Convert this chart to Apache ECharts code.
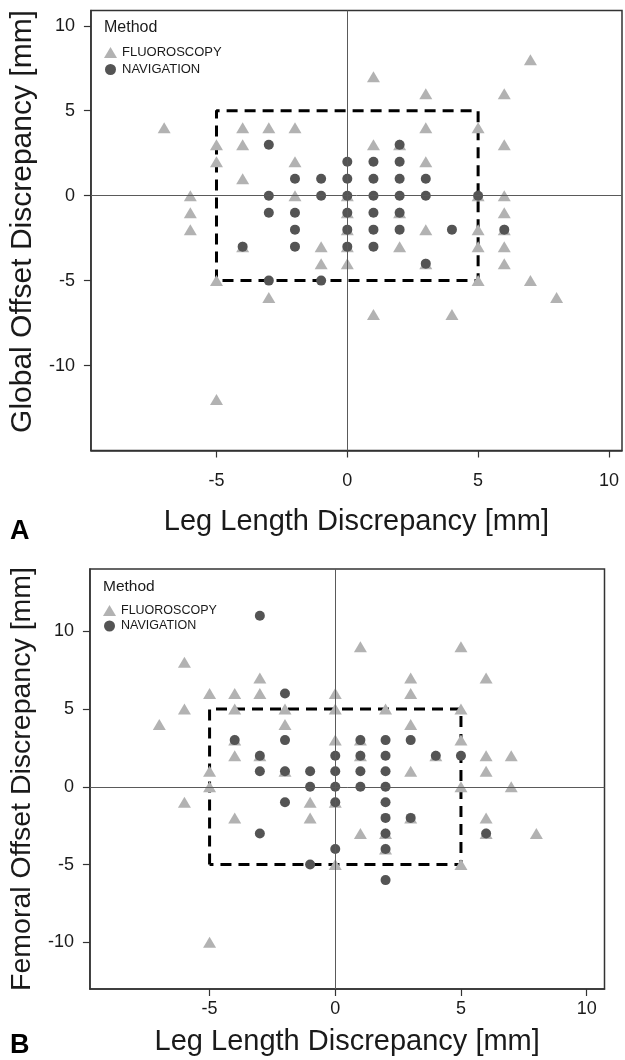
<!DOCTYPE html>
<html>
<head>
<meta charset="utf-8">
<script src="https://cdn.jsdelivr.net/npm/echarts@6/dist/echarts.min.js"></script>
<style>
html,body{margin:0;padding:0;background:#fff;}
#main{width:625px;height:1060px;}
</style>
</head>
<body>
<div id="main"></div>
<script>
// ---- data ----
const seriesNames = ['FLUOROSCOPY', 'NAVIGATION'];
const xTicks = [-5, 0, 5, 10];
const yTicksA = [-10, -5, 0, 5, 10];
const yTicksB = [-10, -5, 0, 5, 10];
const targetZone = [-5, 5];

// Panel A: Leg length vs Global offset discrepancy
const fluoroA = [
  [-7,4],[-4,4],[-3,4],[-2,4],[-5,3],[-4,3],[-5,2],[-2,2],[-4,1],[-6,0],[-2,0],
  [-6,-1],[-6,-2],[-4,-3],[-1,-3],[-1,-4],[0,-4],[-5,-5],[-3,-6],[-5,-12],
  [7,8],[1,7],[3,6],[6,6],[3,4],[5,4],[1,3],[2,3],[6,3],[3,2],[0,0],[5,0],[6,0],
  [0,-1],[2,-1],[6,-1],[0,-2],[3,-2],[5,-2],[6,-2],[0,-3],[2,-3],[5,-3],[6,-3],
  [3,-4],[6,-4],[5,-5],[7,-5],[8,-6],[1,-7],[4,-7]
];
const navA = [
  [-3,3],[0,2],[-2,1],[-1,1],[0,1],[-3,0],[-1,0],[0,0],[-3,-1],[-2,-1],[0,-1],
  [-2,-2],[0,-2],[-4,-3],[-2,-3],[0,-3],[-3,-5],[-1,-5],
  [2,3],[1,2],[2,2],[1,1],[2,1],[3,1],[1,0],[2,0],[3,0],[5,0],[1,-1],[2,-1],
  [1,-2],[2,-2],[4,-2],[6,-2],[1,-3],[3,-4]
];

// Panel B: Leg length vs Femoral offset discrepancy
const fluoroB = [
  [-6,8],[-3,7],[-5,6],[-4,6],[-3,6],[0,6],[-6,5],[-4,5],[-2,5],[0,5],[-7,4],[-2,4],
  [-4,3],[0,3],[-4,2],[-3,2],[-5,1],[-2,1],[-5,0],[-6,-1],[-1,-1],[0,-1],[-4,-2],[-1,-2],
  [0,-5],[-5,-10],
  [1,9],[5,9],[3,7],[6,7],[3,6],[2,5],[5,5],[3,4],[1,3],[5,3],[1,2],[4,2],[6,2],[7,2],
  [3,1],[6,1],[5,0],[7,0],[3,-2],[6,-2],[1,-3],[2,-3],[6,-3],[8,-3],[2,-4],[5,-5]
];
const navB = [
  [-3,11],[-2,6],[-4,3],[-2,3],[-3,2],[0,2],[-3,1],[-2,1],[-1,1],[0,1],[-1,0],[0,0],
  [-2,-1],[0,-1],[-3,-3],[0,-4],[-1,-5],
  [1,3],[2,3],[3,3],[1,2],[2,2],[4,2],[5,2],[1,1],[2,1],[1,0],[2,0],[2,-1],[2,-2],
  [3,-2],[2,-3],[6,-3],[2,-4],[2,-6]
];

// ---- styling ----
const FONT = "'Liberation Sans', Arial, Helvetica, sans-serif";
const TEXT = '#1a1a1a';
const AXIS = '#333';
const TRI = '#b2b2b2';
const DOT = '#545454';

function rectPath(z) {
  const lo = z[0], hi = z[1];
  return [[lo,lo],[lo,hi],[hi,hi],[hi,lo],[lo,lo]];
}

function xAxisDef(gridIndex, min, max, labelMargin, nameGap) {
  return {
    type: 'value', gridIndex, min, max,
    name: 'Leg Length Discrepancy [mm]',
    nameLocation: 'middle', nameGap,
    nameTextStyle: {fontFamily: FONT, fontSize: 29, color: TEXT},
    axisLine: {show: true, onZero: false, lineStyle: {color: AXIS, width: 1.5}},
    axisTick: {show: true, length: 7, customValues: xTicks, lineStyle: {color: AXIS, width: 1.2}},
    axisLabel: {customValues: xTicks, fontFamily: FONT, fontSize: 18, color: TEXT, margin: labelMargin},
    splitLine: {show: false}
  };
}
function yAxisDef(gridIndex, min, max, ticks, name, nameGap, nameSize, pad) {
  return {
    type: 'value', gridIndex, min, max,
    name, nameLocation: 'middle', nameGap,
    nameTextStyle: {fontFamily: FONT, fontSize: nameSize, color: TEXT, padding: pad},
    axisLine: {show: true, onZero: false, lineStyle: {color: AXIS, width: 1.5}},
    axisTick: {show: true, length: 7, customValues: ticks, lineStyle: {color: AXIS, width: 1.2}},
    axisLabel: {customValues: ticks, fontFamily: FONT, fontSize: 18, color: TEXT, margin: 16},
    splitLine: {show: false}
  };
}
function panelSeries(idx, fl, nv) {
  return [
    {
      type: 'line', xAxisIndex: idx, yAxisIndex: idx, data: rectPath(targetZone),
      showSymbol: false, symbol: 'none', silent: true, z: 1,
      lineStyle: {color: '#000', width: 3, type: [11, 7]},
      markLine: {
        silent: true, symbol: ['none','none'], label: {show: false},
        lineStyle: {color: '#5a5a5a', width: 1, type: 'solid'},
        data: [{xAxis: 0}, {yAxis: 0}]
      }
    },
    {
      name: seriesNames[0], type: 'scatter', xAxisIndex: idx, yAxisIndex: idx, z: 2,
      symbol: 'triangle', symbolSize: [13, 11], data: fl,
      itemStyle: {color: TRI, opacity: 1}
    },
    {
      name: seriesNames[1], type: 'scatter', xAxisIndex: idx, yAxisIndex: idx, z: 3,
      symbol: 'circle', symbolSize: 10, data: nv,
      itemStyle: {color: DOT, opacity: 1}
    }
  ];
}

const chart = echarts.init(document.getElementById('main'), null, {renderer: 'canvas'});
chart.setOption({
  animation: false,
  backgroundColor: '#fff',
  title: [
    {text: 'A', left: 10, top: 518, padding: 0, textStyle: {fontFamily: FONT, fontSize: 27, fontWeight: 'bold', color: '#000'}},
    {text: 'B', left: 10, top: 1032, padding: 0, textStyle: {fontFamily: FONT, fontSize: 27, fontWeight: 'bold', color: '#000'}},
    {text: 'Method', left: 104, top: 20, padding: 0, textStyle: {fontFamily: FONT, fontSize: 16, fontWeight: 'normal', color: TEXT}},
    {text: 'Method', left: 103, top: 579, padding: 0, textStyle: {fontFamily: FONT, fontSize: 15.5, fontWeight: 'normal', color: TEXT}}
  ],
  legend: [
    {
      data: seriesNames, orient: 'vertical', left: 104, top: 46, padding: 0,
      itemWidth: 13, itemHeight: 11, itemGap: 4, selectedMode: false,
      textStyle: {fontFamily: FONT, fontSize: 13, color: TEXT, lineHeight: 13}
    },
    {
      data: seriesNames, orient: 'vertical', left: 103, top: 604, padding: 0,
      itemWidth: 13, itemHeight: 11, itemGap: 2.5, selectedMode: false,
      textStyle: {fontFamily: FONT, fontSize: 12.5, color: TEXT, lineHeight: 13}
    }
  ],
  grid: [
    {left: 88.5, top: 10.5, width: 533.5, height: 440, show: true, borderColor: AXIS, borderWidth: 1.5, backgroundColor: '#fff'},
    {left: 88.5, top: 569, width: 516, height: 420, show: true, borderColor: AXIS, borderWidth: 1.5, backgroundColor: '#fff'}
  ],
  xAxis: [
    xAxisDef(0, -9.8, 10.5, 22, 57),
    xAxisDef(1, -9.76, 10.71, 11, 38)
  ],
  yAxis: [
    yAxisDef(0, -15, 10.9, yTicksA, 'Global Offset Discrepancy [mm]', 52, 30, [0, 0, 0, 18]),
    yAxisDef(1, -13, 14, yTicksB, 'Femoral Offset Discrepancy [mm]', 52, 28.5, [0, 0, 0, 0])
  ],
  series: [].concat(panelSeries(0, fluoroA, navA), panelSeries(1, fluoroB, navB))
});
</script>
</body>
</html>
